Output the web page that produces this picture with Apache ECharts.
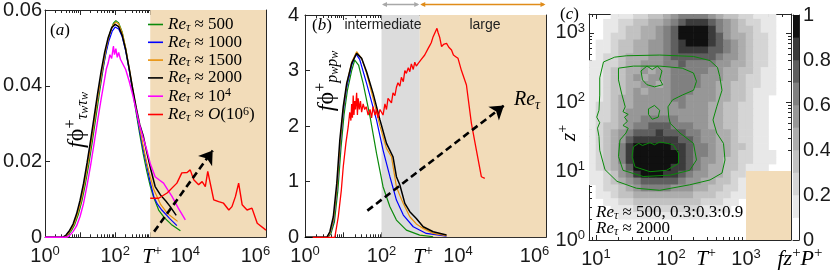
<!DOCTYPE html>
<html><head><meta charset="utf-8">
<script src="https://cdn.jsdelivr.net/npm/echarts@6/dist/echarts.min.js"></script>
<style>html,body{margin:0;padding:0;background:#fff}#c{width:830px;height:276px}</style>
</head><body><div id="c"></div>
<script>
// ---------------- DATA (x values are log10 T+, z values are log10 z+) ----------------
// Panel (a): f*Phi_tau_w (log10 T+, value)
const aGreen = [[0,0],[0.55,0],[0.65,0.0006],[0.75,0.0017],[0.85,0.0034],[0.95,0.006],[1.05,0.0095],[1.15,0.014],[1.25,0.0193],[1.35,0.0253],[1.45,0.0316],[1.55,0.038],[1.65,0.044],[1.75,0.0495],[1.85,0.0538],[1.95,0.0565],[2.02,0.0572],[2.1,0.0566],[2.2,0.0542],[2.3,0.0498],[2.4,0.0443],[2.5,0.0385],[2.6,0.0328],[2.7,0.0272],[2.8,0.022],[2.9,0.0175],[3.0,0.0135],[3.1,0.0105],[3.24,0.0072],[3.4,0.0052],[3.6,0.0034],[3.86,0.0017]];
const aBlue = [[0,0],[0.55,0],[0.62,0.0006],[0.72,0.0018],[0.82,0.0035],[0.92,0.0062],[1.02,0.0097],[1.12,0.0142],[1.22,0.0195],[1.32,0.0254],[1.42,0.0315],[1.52,0.0375],[1.62,0.0432],[1.72,0.048],[1.82,0.0518],[1.92,0.0545],[2.0,0.0555],[2.1,0.055],[2.2,0.053],[2.3,0.0492],[2.4,0.0442],[2.5,0.0388],[2.6,0.0335],[2.7,0.028],[2.8,0.0232],[2.9,0.019],[3.0,0.0145],[3.1,0.0108],[3.2,0.0088],[3.33,0.0072],[3.55,0.005],[3.76,0.0031]];
const aOrange = [[0,0],[0.55,0],[0.63,0.0006],[0.73,0.0018],[0.83,0.0035],[0.93,0.0062],[1.03,0.0097],[1.13,0.0143],[1.23,0.0197],[1.33,0.0257],[1.43,0.032],[1.53,0.0382],[1.63,0.0441],[1.73,0.0492],[1.83,0.0533],[1.93,0.0559],[2.02,0.0568],[2.1,0.0563],[2.2,0.054],[2.3,0.05],[2.4,0.0448],[2.5,0.0393],[2.6,0.034],[2.7,0.0288],[2.8,0.0242],[2.9,0.0198],[3.0,0.016],[3.1,0.0126],[3.3,0.0086],[3.5,0.0062],[3.78,0.0042]];
const aBlack = [[0,0],[0.5,0],[0.6,0.0006],[0.7,0.0018],[0.8,0.0035],[0.9,0.0062],[1.0,0.0098],[1.1,0.0143],[1.2,0.0197],[1.3,0.0256],[1.4,0.0318],[1.5,0.038],[1.6,0.0438],[1.7,0.0488],[1.8,0.0527],[1.9,0.0553],[2.0,0.0562],[2.1,0.0556],[2.2,0.0533],[2.3,0.0495],[2.4,0.0445],[2.5,0.0392],[2.6,0.0342],[2.7,0.0298],[2.8,0.0268],[2.9,0.0225],[3.0,0.0185],[3.14,0.0134],[3.29,0.0112],[3.45,0.0095],[3.57,0.0081],[3.74,0.0058]];
const aMagenta = [[0,0],[0.62,0],[0.7,0.0005],[0.8,0.0015],[0.9,0.003],[1.0,0.0055],[1.1,0.009],[1.2,0.0138],[1.3,0.019],[1.4,0.0248],[1.5,0.0308],[1.6,0.0365],[1.7,0.0418],[1.75,0.0445],[1.8,0.046],[1.85,0.0482],[1.9,0.0472],[1.95,0.0505],[1.98,0.0482],[2.02,0.0498],[2.06,0.0475],[2.1,0.0488],[2.15,0.047],[2.2,0.0465],[2.3,0.0443],[2.4,0.0412],[2.5,0.0376],[2.6,0.0335],[2.7,0.0295],[2.8,0.0262],[2.9,0.0231],[3.0,0.0195],[3.14,0.016],[3.25,0.0152],[3.38,0.0143],[3.5,0.0125],[3.62,0.0108],[3.8,0.0077],[4.0,0.0046]];
const aRed = [[3.0,0.0103],[3.24,0.0103],[3.48,0.0117],[3.76,0.0143],[3.9,0.017],[4.05,0.0171],[4.14,0.0178],[4.24,0.0152],[4.38,0.0139],[4.48,0.0147],[4.57,0.0134],[4.64,0.0174],[4.71,0.0143],[4.81,0.0099],[4.95,0.0094],[5.09,0.009],[5.24,0.0072],[5.33,0.0081],[5.43,0.0108],[5.52,0.0143],[5.62,0.0086],[5.76,0.0072],[5.9,0.0077],[6.05,0.0037],[6.3,0.0019]];
const aArrow = [[3.11,0.0015],[4.78,0.0229]];
const aTan = [[3,6.3,0,0.06]];

// Panel (b): f*Phi_pw (log10 T+, value)
const bGreen = [[0,0],[0.6,0],[0.68,0.07],[0.77,0.28],[0.86,0.85],[0.94,1.6],[1.02,2.2],[1.11,2.65],[1.22,3.0],[1.3,3.19],[1.4,3.1],[1.52,2.77],[1.7,2.17],[1.87,1.51],[2.04,0.91],[2.22,0.55],[2.39,0.31],[2.65,0.13],[3.0,0.04],[3.35,0.01]];
const bBlue = [[0,0],[0.58,0],[0.66,0.07],[0.75,0.3],[0.84,0.9],[0.92,1.65],[1.0,2.25],[1.09,2.7],[1.22,3.1],[1.33,3.3],[1.43,3.2],[1.61,2.77],[1.87,2.11],[2.04,1.57],[2.22,1.09],[2.39,0.67],[2.57,0.4],[2.83,0.19],[3.17,0.07],[3.7,0.02]];
const bOrange = [[0,0],[0.58,0],[0.66,0.08],[0.75,0.33],[0.84,0.93],[0.92,1.7],[1.0,2.3],[1.09,2.75],[1.22,3.15],[1.35,3.34],[1.48,3.22],[1.61,2.95],[1.78,2.5],[1.96,2.0],[2.13,1.6],[2.26,1.45],[2.39,0.91],[2.48,0.75],[2.57,0.61],[2.74,0.37],[2.91,0.24],[3.09,0.16],[3.35,0.07],[3.7,0.03]];
const bBlack = [[0,0],[0.57,0],[0.65,0.1],[0.74,0.37],[0.83,0.97],[0.91,1.75],[1.0,2.35],[1.09,2.77],[1.22,3.13],[1.35,3.31],[1.48,3.22],[1.61,2.98],[1.78,2.59],[1.96,2.11],[2.13,1.69],[2.3,1.45],[2.39,1.09],[2.48,0.94],[2.61,0.61],[2.74,0.46],[2.91,0.34],[3.09,0.19],[3.35,0.1],[3.7,0.04]];
const bRed = [[0.2,0],[0.78,0],[0.87,0.37],[0.95,0.85],[1.0,1.27],[1.07,1.7],[1.13,1.99],[1.17,2.25],[1.2,2.1],[1.22,2.4],[1.24,2.15],[1.26,2.55],[1.28,2.2],[1.3,2.45],[1.32,2.3],[1.35,2.6],[1.37,2.2],[1.39,2.5],[1.42,2.3],[1.45,2.45],[1.48,2.25],[1.52,2.4],[1.56,2.3],[1.6,2.35],[1.65,2.2],[1.7,2.3],[1.74,2.15],[1.78,2.35],[1.83,2.2],[1.87,2.3],[1.91,2.15],[1.96,2.3],[2.0,2.29],[2.04,2.2],[2.09,2.4],[2.13,2.3],[2.17,2.5],[2.22,2.53],[2.26,2.42],[2.3,2.6],[2.35,2.55],[2.39,2.7],[2.43,2.78],[2.48,2.72],[2.52,2.88],[2.57,2.8],[2.61,3.0],[2.65,2.95],[2.7,3.05],[2.74,2.98],[2.78,3.12],[2.83,3.02],[2.87,3.15],[2.91,3.08],[2.96,3.13],[3.0,3.13],[3.04,3.2],[3.09,3.18],[3.13,3.28],[3.17,3.31],[3.22,3.4],[3.26,3.45],[3.3,3.5],[3.35,3.61],[3.39,3.62],[3.45,3.76],[3.48,3.68],[3.52,3.6],[3.57,3.43],[3.62,3.47],[3.7,3.49],[3.76,3.42],[3.83,3.37],[3.88,3.28],[3.94,3.25],[4.0,3.22],[4.09,3.0],[4.22,2.74],[4.35,2.05],[4.48,1.57],[4.61,1.09],[4.7,1.06]];
const bArrow = [[1.63,0.48],[5.2,2.37]];
const bBands = [[2,3,0,4],[3,6.3,0,4]];
const bScaleArrows = [[2,3],[3,6.3]];

// Panel (c): filled contour levels (0..9 -> fz+P+ in 0.1 bands), rows from top (log z+ 3.2-3.3) to bottom
const cColLogT = [0.9,1.0,1.1,1.2,1.3,1.4,1.5,1.6,1.7,1.8,1.9,2.0,2.1,2.2,2.3,2.4,2.5,2.6,2.7,2.8,2.9,3.0,3.1,3.2,3.3,3.4,3.5];
const cRowLogZ = [3.2,3.1,3.0,2.9,2.8,2.7,2.6,2.5,2.4,2.3,2.2,2.1,2.0,1.9,1.8,1.7,1.6,1.5,1.4,1.3,1.2,1.1,1.0,0.9,0.8,0.7,0.6,0.5,0.4,0.3,0.2,0.1,0.0];
const cLevelRows = [
"000111223345666654332211100",
"001122334456788876543221100",
"001123344567999986543321100",
"001223344567999987544322100",
"011233445567899987654322100",
"011233445567888877654322100",
"012234445567777776554322100",
"112234455566766665544322100",
"112334454556666655443321100",
"112334545556666555443221100",
"112334455456666554433221100",
"112334545556665554433211100",
"112344555556655554433211000",
"122344555555655544332211000",
"122345555555555544332211000",
"122345566666555544332211000",
"123345667776665544332211000",
"123456777877766554432211000",
"123457888888776554432211000",
"123468999998876654433211000",
"123468999999876654432211100",
"123468999999876554332211100",
"123457999998876544332111000",
"112356899988765544322100000",
"112345677777655443321100000",
"012234566665554433221000000",
"011233444444443332211000000",
"001122333333333222110000000",
"000111222222222111100000000",
"000011111111111100000000000",
"000000000000000000000000000",
"000000000000000000000000000",
"000000000000000000000000000"];
const cContour03 = [[1.10,2.58],[1.25,2.65],[1.41,2.67],[1.85,2.68],[2.30,2.66],[2.52,2.6],[2.62,2.5],[2.65,2.37],[2.68,2.17],[2.61,1.93],[2.56,1.74],[2.61,1.55],[2.70,1.40],[2.72,1.16],[2.68,0.97],[2.52,0.87],[2.25,0.80],[1.85,0.72],[1.54,0.75],[1.28,0.85],[1.12,1.02],[1.05,1.3],[1.04,1.5],[1.02,1.62],[1.05,1.7],[1.01,1.78],[1.04,1.88],[1.05,2.1],[1.05,2.35],[1.10,2.58]];
const cContour06 = [[1.30,2.49],[1.5,2.52],[1.85,2.52],[2.15,2.49],[2.3,2.42],[2.34,2.30],[2.30,2.17],[2.15,2.1],[2.02,2.03],[1.96,1.93],[1.97,1.78],[1.99,1.69],[2.12,1.55],[2.30,1.40],[2.34,1.16],[2.25,1.01],[1.99,0.94],[1.63,0.92],[1.36,1.01],[1.30,1.21],[1.32,1.45],[1.40,1.55],[1.43,1.62],[1.36,1.66],[1.42,1.72],[1.38,1.78],[1.43,1.82],[1.36,1.86],[1.39,1.93],[1.34,2.13],[1.30,2.32],[1.30,2.49]];
const cContour09 = [[1.50,1.35],[1.57,1.40],[1.62,1.37],[1.72,1.41],[1.78,1.38],[1.85,1.42],[1.95,1.40],[2.03,1.38],[2.10,1.26],[2.10,1.11],[1.94,1.01],[1.72,0.99],[1.52,1.06],[1.48,1.21],[1.50,1.35]];
const cIsland1 = [[1.6,2.45],[1.68,2.52],[1.75,2.47],[1.82,2.52],[1.88,2.45],[1.85,2.33],[1.89,2.25],[1.78,2.22],[1.68,2.25],[1.62,2.32],[1.6,2.45]];
const cIsland2 = [[1.70,1.90],[1.78,1.95],[1.85,1.88],[1.83,1.78],[1.75,1.75],[1.70,1.82],[1.70,1.90]];
const cBox = [[3,3.6,0,1]];
const cbLevels = [0,1,2,3,4,5,6,7,8,9];

// tick labels
const abXLabels = [0,2,4,6];
const abXMajor = [0,1,2,3,4,5,6];
const aYTicks = [0,0.02,0.04,0.06];
const bYTicks = [0,1,2,3,4];
const cXMajor = [1,2,3];
const cYMajor = [0,1,2,3];
const cbTicks = [0,0.2,0.4,0.6,0.8,1];

// ---------------- STYLE ----------------
const SS = 'Liberation Sans', FS = 'Liberation Serif';
const AX = '#262626', TXT = '#1a1a1a';
const TAN = '#f2dcb9', GREYBAND = '#dcdcdc';
const C = {green:'#0a8a0a', blue:'#0000ff', orange:'#e8900a', black:'#000000', magenta:'#ff00ff', red:'#ff0000'};
const greys = ['#ffffff','#e8e8e8','#d5d5d5','#c2c2c2','#adadad','#979797','#808080','#5f5f5f','#3b3b3b','#101010'];

function minorList(lo, hi){
  const out=[];
  for(let d=-1; d<8; d++) for(let k=2;k<=9;k++){ const v=d+Math.log10(k); if(v>lo+1e-6 && v<hi-1e-6) out.push(v); }
  return out;
}
const tickRich = {
  b:{fontSize:20, fontFamily:SS, lineHeight:22, color:TXT},
  s:{fontSize:13, fontFamily:SS, lineHeight:13, verticalAlign:'top', color:TXT}
};
const powFmt = v => '{b|10}{s|' + Math.round(v) + '}';

function axis(grid, pos, min, max, opts){
  const o = {type:'value', gridIndex:grid, position:pos, min:min, max:max,
    axisLine:{show: opts.line!==false, onZero:false, lineStyle:{color:AX, width:1}},
    splitLine:{show:false}, axisPointer:{show:false},
    axisTick:{show:!!opts.ticks, inside:true, length:opts.len||5, customValues:opts.ticks||[], lineStyle:{color:AX, width:1}},
    axisLabel:{show:!!opts.labels}};
  if(opts.labels){
    o.axisLabel = {show:true, customValues:opts.labels, formatter:opts.fmt, margin:opts.margin,
      color:TXT, fontFamily:SS, fontSize:20, rich:tickRich, showMinLabel:true, showMaxLabel:true};
  }
  return o;
}

const xAxes = [
  axis(0,'bottom',0,6.3,{ticks:abXMajor, labels:abXLabels, fmt:powFmt, margin:8}),
  axis(0,'top',0,6.3,{ticks:abXMajor}),
  axis(0,'bottom',0,6.3,{ticks:minorList(0,6.3), len:3, line:false}),
  axis(0,'top',0,6.3,{ticks:minorList(0,6.3), len:3, line:false}),
  axis(1,'bottom',0,6.3,{ticks:abXMajor, labels:abXLabels, fmt:powFmt, margin:8}),
  axis(1,'top',0,6.3,{ticks:abXMajor}),
  axis(1,'bottom',0,6.3,{ticks:minorList(0,6.3), len:3, line:false}),
  axis(1,'top',0,6.3,{ticks:minorList(0,6.3), len:3, line:false}),
  axis(2,'bottom',0.907,3.6,{ticks:cXMajor, labels:cXMajor, fmt:powFmt, margin:8}),
  axis(2,'top',0.907,3.6,{ticks:cXMajor}),
  axis(2,'bottom',0.907,3.6,{ticks:minorList(0.907,3.6), len:3, line:false}),
  axis(2,'top',0.907,3.6,{ticks:minorList(0.907,3.6), len:3, line:false}),
  axis(3,'bottom',0,1,{}),
  axis(3,'top',0,1,{})
];
const yAxes = [
  axis(0,'left',0,0.06,{ticks:aYTicks, labels:aYTicks, fmt:v=>v===0?'0':v.toFixed(2), margin:3}),
  axis(0,'right',0,0.06,{ticks:aYTicks}),
  axis(1,'left',0,4,{ticks:bYTicks, labels:bYTicks, fmt:v=>String(v), margin:6}),
  axis(1,'right',0,4,{ticks:bYTicks}),
  axis(2,'left',0,3.275,{ticks:cYMajor, labels:cYMajor, fmt:powFmt, margin:4}),
  axis(2,'right',0,3.275,{ticks:cYMajor}),
  axis(2,'left',0,3.275,{ticks:minorList(0,3.275), len:3, line:false}),
  axis(2,'right',0,3.275,{ticks:minorList(0,3.275), len:3, line:false}),
  axis(3,'right',0,1,{ticks:cbTicks, len:3, labels:cbTicks, fmt:v=>(v===0||v===1)?String(v):v.toFixed(1), margin:4}),
  axis(3,'left',0,1,{})
];

function shadeRender(colors){
  return function(params, api){
    const p0 = api.coord([api.value(0), api.value(3)]);
    const p1 = api.coord([api.value(1), api.value(2)]);
    return {type:'rect', shape:{x:p0[0], y:p0[1], width:p1[0]-p0[0], height:p1[1]-p0[1]},
      style:{fill:colors[params.dataIndex % colors.length]}};
  };
}
function lineSeries(name, data, color, xi, yi, width){
  return {type:'line', name:name, data:data, xAxisIndex:xi, yAxisIndex:yi, symbol:'none', showSymbol:false,
    lineStyle:{color:color, width:width||1.2}, itemStyle:{color:color}, z:3, silent:true, clip:true, emphasis:{disabled:true}};
}
function arrowSeries(pts, xi, yi){
  return {type:'line', data:[], xAxisIndex:xi, yAxisIndex:yi, symbol:'none', silent:true, z:6,
    markLine:{silent:true, animation:false, symbol:['none','arrow'], symbolSize:13, symbolKeepAspect:false,
      itemStyle:{color:'#000'},
      lineStyle:{color:'#000', width:2.6, type:[7,4]}, label:{show:false}, emphasis:{disabled:true},
      data:[[{coord:pts[0]},{coord:pts[1]}]]}};
}

// field cells
const cellData = [];
cLevelRows.forEach((row, r) => {
  for(let c=0; c<row.length && c<cColLogT.length; c++){
    const lev = +row[c];
    if(lev>0) cellData.push([cColLogT[c], cRowLogZ[r], lev]);
  }
});

const series = [
  {type:'custom', xAxisIndex:0, yAxisIndex:0, z:1, silent:true, clip:true, renderItem:shadeRender([TAN]), data:aTan},
  lineSeries('500', aGreen, C.green, 0, 0),
  lineSeries('1000', aBlue, C.blue, 0, 0),
  lineSeries('1500', aOrange, C.orange, 0, 0),
  lineSeries('2000', aBlack, C.black, 0, 0, 1.5),
  lineSeries('1e4', aMagenta, C.magenta, 0, 0, 1.4),
  lineSeries('1e6', aRed, C.red, 0, 0, 1.4),
  arrowSeries(aArrow, 0, 0),

  {type:'custom', xAxisIndex:4, yAxisIndex:2, z:1, silent:true, clip:true, renderItem:shadeRender([GREYBAND, TAN]), data:bBands},
  {type:'custom', xAxisIndex:4, yAxisIndex:2, z:4, silent:true, clip:false, data:bScaleArrows,
    renderItem:function(params, api){
      const p0 = api.coord([api.value(0), 4]), p1 = api.coord([api.value(1), 4]);
      const y = p0[1] - 10.5, col = params.dataIndex===0 ? '#a8a8a8' : '#e08c1a';
      const h=5, w=2.6;
      return {type:'group', children:[
        {type:'line', shape:{x1:p0[0]+2, y1:y, x2:p1[0]-2, y2:y}, style:{stroke:col, lineWidth:1.3}},
        {type:'polygon', shape:{points:[[p0[0]+0.5,y],[p0[0]+0.5+h,y-w],[p0[0]+0.5+h,y+w]]}, style:{fill:col}},
        {type:'polygon', shape:{points:[[p1[0]-0.5,y],[p1[0]-0.5-h,y-w],[p1[0]-0.5-h,y+w]]}, style:{fill:col}}
      ]};
    }},
  lineSeries('b500', bGreen, C.green, 4, 2),
  lineSeries('b1000', bBlue, C.blue, 4, 2),
  lineSeries('b1500', bOrange, C.orange, 4, 2),
  lineSeries('b2000', bBlack, C.black, 4, 2, 1.5),
  lineSeries('b1e6', bRed, C.red, 4, 2, 1.3),
  arrowSeries(bArrow, 4, 2),

  {type:'custom', xAxisIndex:8, yAxisIndex:4, z:1, silent:true, clip:true, data:cellData,
    renderItem:function(params, api){
      const x0=api.value(0), z0=api.value(1), lev=api.value(2);
      const p0 = api.coord([x0, z0+0.1]), p1 = api.coord([x0+0.1, z0]);
      return {type:'rect', shape:{x:p0[0]-0.3, y:p0[1]-0.3, width:p1[0]-p0[0]+0.6, height:p1[1]-p0[1]+0.6},
        style:{fill:greys[lev]}};
    }},
  {type:'custom', xAxisIndex:8, yAxisIndex:4, z:2, silent:true, clip:true, renderItem:shadeRender([TAN]), data:cBox},
  lineSeries('c03', cContour03, C.green, 8, 4, 1),
  lineSeries('c06', cContour06, C.green, 8, 4, 1),
  lineSeries('c09', cContour09, C.green, 8, 4, 1),
  lineSeries('ci1', cIsland1, C.green, 8, 4, 1),
  lineSeries('ci2', cIsland2, C.green, 8, 4, 1),

  {type:'custom', xAxisIndex:12, yAxisIndex:8, z:1, silent:true, clip:true, data:cbLevels,
    renderItem:function(params, api){
      const lev = api.value(0);
      const p0 = api.coord([0, (lev+1)/10]), p1 = api.coord([1, lev/10]);
      return {type:'rect', shape:{x:p0[0], y:p0[1]-0.3, width:p1[0]-p0[0], height:p1[1]-p0[1]+0.6}, style:{fill:greys[lev]}};
    }}
];

// ---------------- TEXT ----------------
function mrich(size, color, lh){
  color = color || '#000';
  return {
    i:{fontFamily:FS, fontStyle:'italic', fontSize:size, lineHeight:lh||size+4, color:color},
    n:{fontFamily:FS, fontSize:size, lineHeight:lh||size+4, color:color},
    sub:{fontFamily:FS, fontStyle:'italic', fontSize:Math.round(size*0.68), lineHeight:Math.round(size*0.68), verticalAlign:'bottom', color:color},
    sup:{fontFamily:FS, fontSize:Math.round(size*0.68), lineHeight:Math.round(size*0.68), verticalAlign:'top', color:color},
    ss:{fontFamily:FS, fontStyle:'italic', fontSize:Math.round(size*0.5), lineHeight:Math.round(size*0.4), verticalAlign:'bottom', color:color}
  };
}
function txt(x, y, text, rich, align, rot){
  return {type:'text', x:x, y:y, rotation:rot||0, silent:true, z:20,
    style:{text:text, rich:rich, align:align||'left', verticalAlign:'middle', fill:'#000'}};
}
const legendText = {
  '500':'{i|Re}{sub|τ}{n| ≈ 500}', '1000':'{i|Re}{sub|τ}{n| ≈ 1000}', '1500':'{i|Re}{sub|τ}{n| ≈ 1500}',
  '2000':'{i|Re}{sub|τ}{n| ≈ 2000}', '1e4':'{i|Re}{sub|τ}{n| ≈ 10}{sup|4}', '1e6':'{i|Re}{sub|τ}{n| ≈ }{i|O}{n|(10}{sup|6}{n|)}'
};

const graphic = [
  txt(50, 31, '{n|(}{i|a}{n|)}', mrich(17)),
  txt(312, 26, '{n|(}{i|b}{n|)}', mrich(17)),
  txt(560, 15, '{n|(}{i|c}{n|)}', mrich(17)),
  txt(152, 257, '{i|T}{sup|+}', mrich(21), 'center'),
  txt(423, 257, '{i|T}{sup|+}', mrich(21), 'center'),
  txt(706, 259, '{i|T}{sup|+}', mrich(21), 'center'),
  txt(800, 259, '{i|fz}{sup|+}{i|P}{sup|+}', mrich(22), 'center'),
  txt(569, 133, '{i|z}{sup|+}', mrich(21), 'center', Math.PI/2),
  txt(77, 120, '{i|f}{n|ϕ}{sup|+}{sub|τ}{ss|w}{sub|τ}{ss|w}', mrich(24), 'center', Math.PI/2),
  txt(327, 81, '{i|f}{n|ϕ}{sup|+}{sub|p}{ss|w}{sub|p}{ss|w}', mrich(24), 'center', Math.PI/2),
  txt(527, 100, '{i|Re}{sub|τ}', mrich(20), 'center'),
  {type:'text', x:383, y:25, silent:true, z:20, style:{text:'intermediate', font:'14px "Liberation Sans"', fill:'#222', align:'center', verticalAlign:'middle'}},
  {type:'text', x:485, y:25, silent:true, z:20, style:{text:'large', font:'14px "Liberation Sans"', fill:'#222', align:'center', verticalAlign:'middle'}},
  txt(596, 213, '{i|Re}{sub|τ}{n| ≈ 500, 0.3:0.3:0.9}', mrich(17, C.green, 18)),
  txt(596, 229, '{i|Re}{sub|τ}{n| ≈ 2000}', mrich(17, '#000', 18))
];

const chart = echarts.init(document.getElementById('c'), null, {renderer:'canvas'});
chart.setOption({
  animation:false,
  backgroundColor:'#ffffff',
  grid:[
    {left:45, top:10, width:221, height:227.3, containLabel:false, outerBoundsMode:'none'},
    {left:305, top:15, width:241, height:222.3, containLabel:false, outerBoundsMode:'none'},
    {left:589, top:14, width:202, height:226, containLabel:false, outerBoundsMode:'none'},
    {left:793, top:15, width:6, height:225, containLabel:false, outerBoundsMode:'none'}
  ],
  xAxis:xAxes, yAxis:yAxes,
  legend:{data:['500','1000','1500','2000','1e4','1e6'], orient:'vertical', left:148, top:16, padding:0,
    icon:'rect', itemWidth:15, itemHeight:1.6, itemGap:0.3, selectedMode:false, inactiveColor:'#000',
    formatter:name=>legendText[name], textStyle:{color:'#000', rich:mrich(17, '#000', 18)}},
  series:series,
  graphic:graphic
});
</script></body></html>
